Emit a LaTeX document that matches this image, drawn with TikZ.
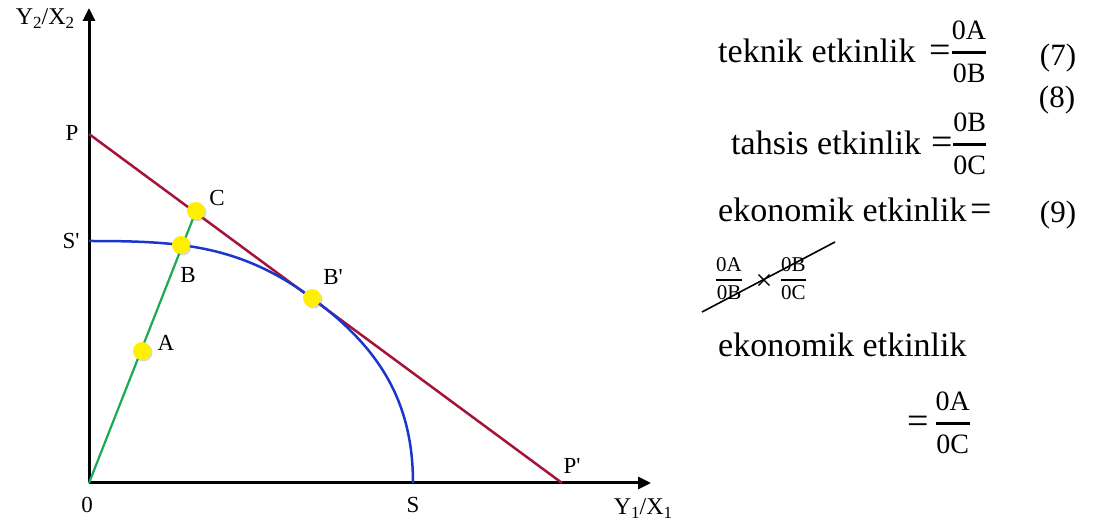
\documentclass[tikz,border=0pt]{standalone}
\usepackage{fontspec}
\setmainfont{Liberation Serif}
\usetikzlibrary{arrows.meta,shadows}
\definecolor{LineRed}{RGB}{165, 20, 55}
\definecolor{CurveBlue}{RGB}{25, 55, 205}
\definecolor{RayGreen}{RGB}{25, 170, 85}
\definecolor{DotYellow}{RGB}{255, 240, 0}
\newcommand{\lowsub}[1]{\raisebox{-0.35ex}{\fontsize{17}{18}\selectfont #1}}
\newcommand{\prm}{\textquotesingle}
% #1 size, #2 numerator, #3 denominator, #4 gap above bar, #5 strut below bar, #6 rule, #7 raise
\newcommand{\stackfrac}[7]{\raisebox{#7}{\fontsize{#1}{#1}\selectfont
    \renewcommand{\arraystretch}{1}\setlength{\arrayrulewidth}{#6}%
    \begin{tabular}[b]{@{}c@{}}#2\\[#4]\hline\rule{0pt}{#5}#3\end{tabular}}}
\newcommand{\bigeq}[2]{\hspace{#1}{\fontsize{38}{40}\selectfont=}\hspace{#2}}
\newcommand{\bigfrac}[2]{\stackfrac{28}{#1}{#2}{3.5pt}{29pt}{2.8pt}{-20pt}}
\newcommand{\smallfrac}[2]{\stackfrac{21}{#1}{#2}{1.2pt}{19pt}{1.8pt}{0pt}}

\begin{document}
\begin{tikzpicture}[x=1pt, y=1pt,
        axis/.style={line width=3pt, -{Triangle[length=13pt, width=12pt]}},
        pt/.style={circle, fill=DotYellow, minimum size=18pt, inner sep=0pt,
            drop shadow={shadow xshift=1.5pt, shadow yshift=-1.5pt, opacity=0.3, fill=gray}},
        lbl/.style={font=\fontsize{23}{25}\selectfont, inner sep=0pt},
        axlbl/.style={font=\fontsize{24}{26}\selectfont, inner sep=0pt},
        eqtext/.style={font=\fontsize{34}{40}\selectfont, inner sep=0pt, anchor=base west},
        eqnum/.style={font=\fontsize{31}{36}\selectfont, inner sep=0pt}
    ]
        \useasboundingbox (0,0) rectangle (1093,525);
        % Key points of the diagram
        \coordinate (O) at (89,42);
        \coordinate (ytip) at (89,517);
        \coordinate (xtip) at (651,42);
        \coordinate (P) at (89,391);
        \coordinate (Pp) at (562,42);
        \coordinate (Sp) at (89,284);
        \coordinate (S) at (413,42);
        % Axes
        \draw[axis] (O) -- (ytip);
        \draw[axis] (O) -- (xtip);
        % Price line
        \draw[LineRed, line width=2.5pt] (P) -- (Pp);
        % Production possibility curve
        \draw[CurveBlue, line width=2.5pt] (Sp) to[out=0, in=143.6] (312,227) to[out=-36.4, in=90] (S);
        % Ray from the origin
        \coordinate (Cpos) at (196,314);
        \draw[RayGreen, line width=2.2pt] (O) -- (Cpos);
        % Points
        \node[pt] (ptA) at (142,174) {};
        \node[pt] (ptB) at (181,280) {};
        \node[pt] (ptC) at (Cpos) {};
        \node[pt] (ptBp) at (312,227) {};
        % Labels
        \node[axlbl] (lY) at (45,506) {Y\lowsub{2}/X\lowsub{2}};
        \node[axlbl] (lX) at (643,16) {Y\lowsub{1}/X\lowsub{1}};
        \node[lbl] (lO) at (87,20) {0};
        \node[lbl] (lS) at (413,20) {S};
        \node[lbl] (lPp) at (572,59) {P\prm};
        \node[lbl] (lP) at (72,392) {P};
        \node[lbl] (lSp) at (71,284) {S\prm};
        \node[lbl] (lC) at (217,327) {C};
        \node[lbl] (lB) at (188,250) {B};
        \node[lbl] (lBp) at (333,248) {B\prm};
        \node[lbl] (lA) at (166,182) {A};
        % Equations
        \node[eqtext] (eqTek) at (718,462) {teknik etkinlik\bigeq{14pt}{1pt}\bigfrac{0A}{0B}};
        \node[eqnum] (n7) at (1058,467) {(7)};
        \node[eqnum] (n8) at (1057,425) {(8)};
        \node[eqtext] (eqTah) at (731,370) {tahsis etkinlik\bigeq{10pt}{1pt}\bigfrac{0B}{0C}};
        \node[eqtext] (eqEko) at (718,303) {ekonomik etkinlik\bigeq{4pt}{0pt}};
        \node[eqnum] (n9) at (1058,310) {(9)};
        \node[inner sep=0pt, anchor=base west] (fAB) at (716,225) {\smallfrac{0A}{0B}};
        \node[inner sep=0pt, font=\fontsize{30}{30}\selectfont] (times) at (764,243) {×};
        \node[inner sep=0pt, anchor=base west] (fBC) at (781,225) {\smallfrac{0B}{0C}};
        \coordinate (strikeL) at (702,213);
        \coordinate (strikeR) at (835,283);
        \draw[line width=1.6pt] (strikeL) -- (strikeR);
        \node[eqtext] (eqEko2) at (718,168) {ekonomik etkinlik};
        \node[eqtext] (eqRes) at (907,91) {\bigeq{0pt}{7pt}\bigfrac{0A}{0C}};
    \end{tikzpicture}
\end{document}
